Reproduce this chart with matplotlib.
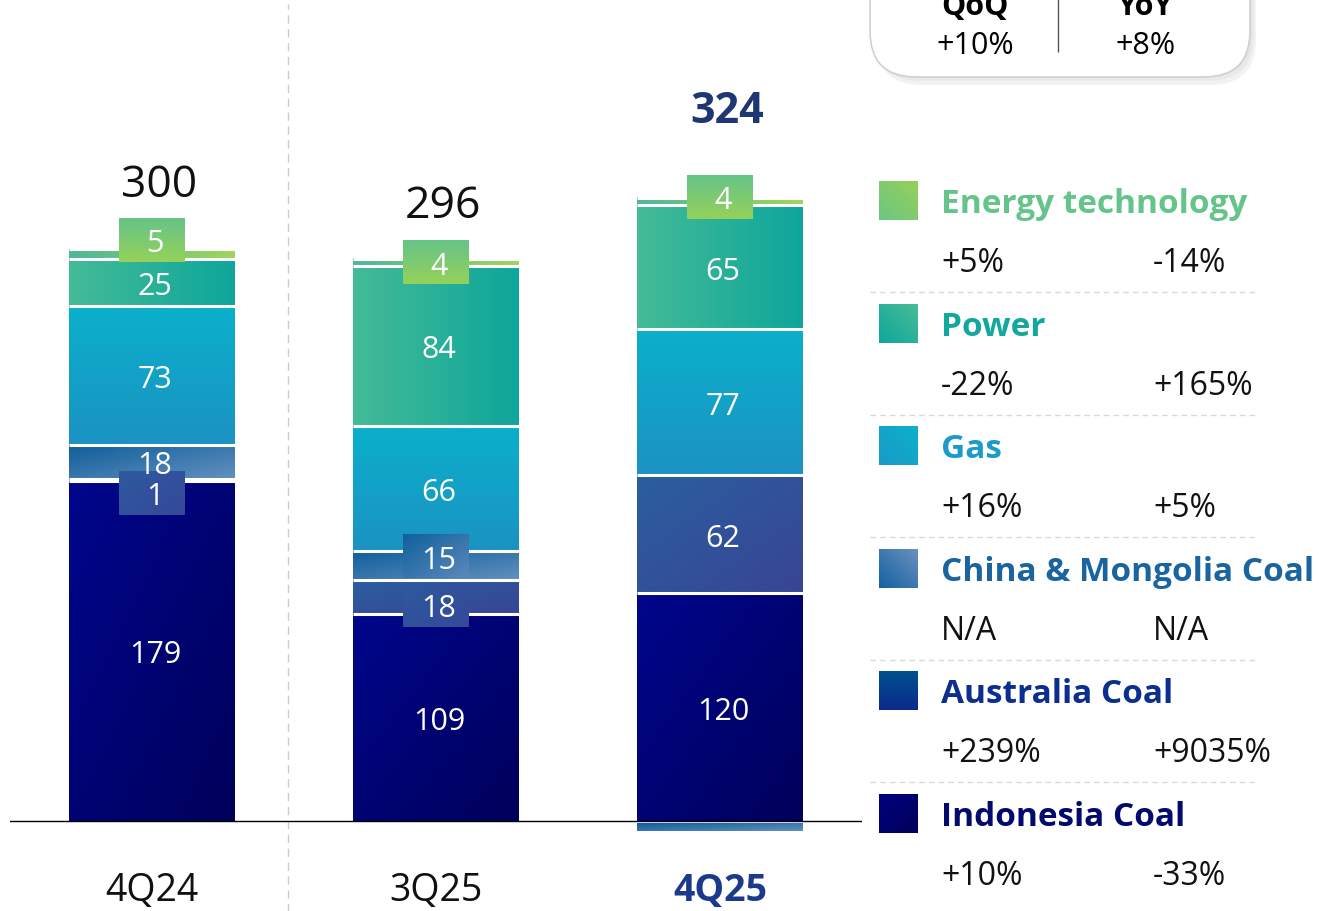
import numpy as np
import matplotlib
matplotlib.use("Agg")
import matplotlib.pyplot as plt
from matplotlib.colors import to_rgb
from matplotlib.patches import FancyBboxPatch

plt.rcParams['font.family'] = ['Open Sans', 'DejaVu Sans']

# data (stack order, bottom up)
quarters = ['4Q24', '3Q25', '4Q25']
indonesia = [179, 109, 120]
australia = [1, 18, 62]
china_mongolia = [18, 15, -4]
gas = [73, 66, 77]
power = [25, 84, 65]
energy_tech = [5, 4, 4]
totals = [300, 296, 324]

legend_names = ['Energy technology', 'Power', 'Gas', 'China & Mongolia Coal',
                'Australia Coal', 'Indonesia Coal']
legend_qoq = ['+5%', '-22%', '+16%', 'N/A', '+239%', '+10%']
legend_yoy = ['-14%', '+165%', '+5%', 'N/A', '+9035%', '-33%']
total_qoq = '+10%'
total_yoy = '+8%'

# styles
series = [indonesia, australia, china_mongolia, gas, power, energy_tech]
seg_fill = [('#00068c', '#00005a', 'd'),
            ('#2b5e9f', '#384595', 'd'),
            ('#0f5e9b', '#6290bf', 'd'),
            ('#0ab0cb', '#1c92c3', 'v'),
            ('#44bb97', '#0ea69b', 'h'),
            ('#4cb898', '#a2d45a', 'h')]
box_fill = [None, ('#2d5a9e', '#36489a', 'd'), ('#11609d', '#5b89ba', 'd'),
            None, None, ('#66c488', '#95d15a', 'v')]
# (bar, series) -> vertical nudge of the label box in px (down positive)
boxed = {(0, 5): -14, (1, 5): 0, (2, 5): -5, (0, 1): 13, (1, 2): -9, (1, 1): 8}
legend_sq = [('#95d15a', '#6cc683', 'ad'), ('#48bc96', '#0ea79c', 'ad'),
             ('#0cb1cc', '#1a9ac6', 'ad'), ('#6a90c0', '#1462a0', 'ad'),
             ('#00508f', '#0c2a8c', 'v'), ('#000080', '#00005a', 'd')]
legend_col = ['#64c48a', '#12a89d', '#1a9bc9', '#1a64a0', '#0c2f8f', '#020a6e']
total_off = [68, 56, 91]

PX = 1.9  # px per unit
W, H = 1320, 912
TXT_DY = 3.5  # px, text sits a bit low in the original


def grad(ax, x0, x1, y0, y1, c0, c1, mode, z=2):
    n = 64
    t = np.linspace(0, 1, n)
    if mode == 'h':
        T = np.tile(t, (n, 1))
    elif mode == 'v':
        T = np.tile(t[:, None], (1, n))
    elif mode == 'd':
        T = (t[None, :] + t[:, None]) / 2
    else:
        T = ((1 - t)[None, :] + t[:, None]) / 2
    a, b = np.array(to_rgb(c0)), np.array(to_rgb(c1))
    img = a + T[..., None] * (b - a)
    ax.imshow(img, extent=(x0, x1, y0, y1), origin='upper', aspect='auto',
              zorder=z, interpolation='bilinear')


fig = plt.figure(figsize=(W / 100, H / 100), dpi=100)
ax = fig.add_axes([10 / W, 0, 852 / W, 1])
ax.axis('off')

bw = 166 / 284
pos = np.zeros(3)
neg = np.zeros(3)
for s, vals in enumerate(series):
    c0, c1, mode = seg_fill[s]
    for i, v in enumerate(vals):
        if v >= 0:
            y0, y1 = pos[i], pos[i] + v
            pos[i] += v
        else:
            y0, y1 = neg[i] + v - 1.0, neg[i] - 1.0
            neg[i] += v
        grad(ax, i - bw / 2, i + bw / 2, y0, y1, c0, c1, mode)
        if v > 0:
            ax.hlines(y1, i - bw / 2, i + bw / 2, color='white', lw=2.2, zorder=3)
            ym = (y0 + y1) / 2
            if (i, s) in boxed:
                ym -= boxed[(i, s)] / PX
                bc0, bc1, bm = box_fill[s]
                hw, hh = 0.115, 22 / PX
                grad(ax, i - hw, i + hw, ym - hh, ym + hh, bc0, bc1, bm, z=4)
            ax.text(i + 0.01, ym - TXT_DY / PX, str(v), color='white', fontsize=22,
                    ha='center', va='center', zorder=5)

for i, t in enumerate(totals):
    bold = i == len(totals) - 1
    ax.text(i + 0.025, pos[i] + (total_off[i] - TXT_DY) / PX, str(t),
            fontsize=31 if bold else 32,
            fontweight='bold' if bold else 'normal',
            color='#1e3672' if bold else '#111111', ha='center', va='center')
    ax.text(i, -(891 - 822) / PX, quarters[i], fontsize=27,
            fontweight='bold' if bold else 'normal',
            color='#1b3a8c' if bold else '#111111', ha='center', va='center')

ax.axhline(0, color='black', lw=1, zorder=6)
ax.vlines(0.479, -50, 430, color='#cccccc', lw=1, linestyles=(0, (6, 4)))
ax.set_xlim(-0.5, 2.5)
ax.set_ylim(-(H - 822) / PX, 822 / PX)

# overlay in pixel coords: change box and legend
ov = fig.add_axes([0, 0, 1, 1])
ov.set_xlim(0, W)
ov.set_ylim(H, 0)
ov.axis('off')
ov.patch.set_alpha(0)

for k, a in enumerate([0.05, 0.07, 0.09]):
    ov.add_patch(FancyBboxPatch((872 + 2 * k, -60 + 2 * k), 380, 138 + 2 * k,
                                boxstyle='round,pad=0,rounding_size=46',
                                fc='#777777', ec='none', alpha=a))
ov.add_patch(FancyBboxPatch((870, -60), 380, 138, boxstyle='round,pad=0,rounding_size=46',
                            fc='white', ec='#d0d0d0', lw=1.2))
ov.vlines(1058, 0, 53, color='#555555', lw=1)
ov.text(975, 7, 'QoQ', fontsize=22, fontweight='bold', ha='center', va='center')
ov.text(1146, 7, 'YoY', fontsize=22, fontweight='bold', ha='center', va='center')
ov.text(975, 43 + TXT_DY, total_qoq, fontsize=22, ha='center', va='center')
ov.text(1146, 43 + TXT_DY, total_yoy, fontsize=22, ha='center', va='center')

ov.set_autoscale_on(False)
for r, name in enumerate(legend_names):
    yl = 201 + 122.6 * r
    c0, c1, mode = legend_sq[r]
    grad(ov, 879, 918, yl + 20, yl - 19, c0, c1, mode)
    ov.text(941, yl + TXT_DY, name, fontsize=24, fontweight='bold', color=legend_col[r],
            ha='left', va='center')
    ov.text(941, yl + 59 + TXT_DY, legend_qoq[r], fontsize=23, color='#111111',
            ha='left', va='center')
    ov.text(1153, yl + 59 + TXT_DY, legend_yoy[r], fontsize=23, color='#111111',
            ha='left', va='center')
    if r < len(legend_names) - 1:
        ov.hlines(yl + 92, 870, 1257, color='#d9d9d9', lw=1, linestyles=(0, (4, 3)))
ov.set_xlim(0, W)
ov.set_ylim(H, 0)

fig.savefig('out.png', dpi=100)
